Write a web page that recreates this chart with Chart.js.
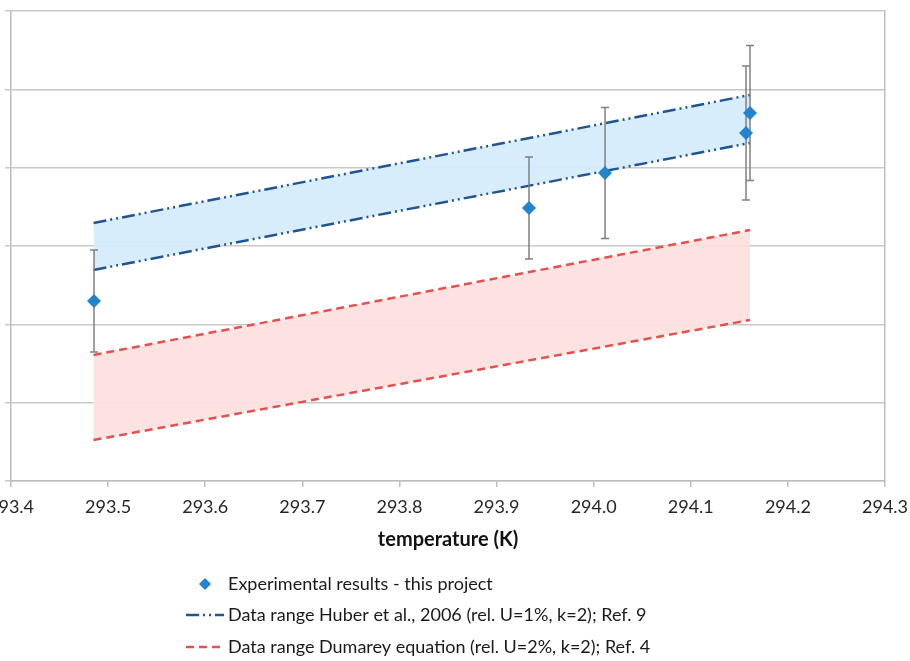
<!DOCTYPE html>
<html><head><meta charset="utf-8">
<script src="https://cdn.jsdelivr.net/npm/chart.js@4"></script>
<style>html,body{margin:0;padding:0;background:#fff}#wrap{width:910px;height:661px;position:relative}canvas{display:block}</style>
</head><body><div id="wrap"><canvas id="c" width="910" height="661"></canvas></div>
<script>
// ---- data ----
const expTemps   = [293.4855, 293.9334, 294.0117, 294.1569, 294.1610];
const expValues  = [2.298, 3.485, 3.932, 4.443, 4.698];
const expErrors  = [0.651, 0.651, 0.836, 0.855, 0.862];
const rangeTemps = [293.485, 294.161];
const huberUpper   = [3.294, 4.928];
const huberLower   = [2.694, 4.315];
const dumareyUpper = [1.609, 3.204];
const dumareyLower = [0.523, 2.055];
const xTickValues = [293.4, 293.5, 293.6, 293.7, 293.8, 293.9, 294.0, 294.1, 294.2, 294.3];
const xTitle = 'temperature (K)';
const seriesLabels = [
  'Experimental results - this project',
  'Data range Huber et al., 2006 (rel. U=1%, k=2); Ref. 9',
  'Data range Dumarey equation (rel. U=2%, k=2); Ref. 4'
];

const FONT = 'Lato';
const BLUE_LINE = '#1f5592';
const RED_LINE = '#e5514d';
const MARKER = '#2184cc';
const HUBER_DASH = [13, 4, 2, 4, 2, 4];
const DUM_DASH = [8, 5];

const pts = (xs, ys) => xs.map((x, i) => ({x, y: ys[i]}));

const errorBars = {
  id: 'errorBars',
  beforeDatasetDraw(chart, args) {
    if (args.index !== 0) return;
    const {ctx, scales: {x, y}} = chart;
    ctx.save();
    ctx.strokeStyle = '#808080';
    ctx.lineWidth = 1.5;
    expTemps.forEach((t, i) => {
      const px = x.getPixelForValue(t);
      const top = y.getPixelForValue(expValues[i] + expErrors[i]);
      const bot = y.getPixelForValue(expValues[i] - expErrors[i]);
      ctx.beginPath();
      ctx.moveTo(px, top); ctx.lineTo(px, bot);
      ctx.moveTo(px - 4, top); ctx.lineTo(px + 4, top);
      ctx.moveTo(px - 4, bot); ctx.lineTo(px + 4, bot);
      ctx.stroke();
    });
    ctx.restore();
  }
};

const customLegend = {
  id: 'customLegend',
  afterDraw(chart) {
    const ctx = chart.ctx;
    const rows = [584, 615, 647];
    ctx.save();
    ctx.font = '18px ' + FONT;
    ctx.textBaseline = 'middle';
    ctx.textAlign = 'left';
    const tx = 228;
    // row 1 diamond
    const r = 6;
    ctx.fillStyle = MARKER;
    ctx.beginPath();
    ctx.moveTo(205, rows[0] - r); ctx.lineTo(205 + r, rows[0]);
    ctx.lineTo(205, rows[0] + r); ctx.lineTo(205 - r, rows[0]); ctx.closePath();
    ctx.fill();
    // row 2 line
    ctx.lineWidth = 2.5;
    ctx.strokeStyle = BLUE_LINE;
    ctx.setLineDash(HUBER_DASH);
    ctx.beginPath(); ctx.moveTo(186, rows[1]); ctx.lineTo(224, rows[1]); ctx.stroke();
    // row 3 line
    ctx.strokeStyle = RED_LINE;
    ctx.setLineDash(DUM_DASH);
    ctx.beginPath(); ctx.moveTo(186, rows[2]); ctx.lineTo(224, rows[2]); ctx.stroke();
    ctx.setLineDash([]);
    ctx.fillStyle = '#1a1a1a';
    seriesLabels.forEach((s, i) => ctx.fillText(s, tx, rows[i]));
    ctx.restore();
  }
};

new Chart(document.getElementById('c'), {
  type: 'line',
  data: {
    datasets: [
      {label: seriesLabels[0], data: pts(expTemps, expValues), showLine: false,
       pointStyle: 'rectRot', pointRadius: 7, pointBackgroundColor: MARKER, pointBorderColor: MARKER, pointBorderWidth: 0, order: 0},
      {label: seriesLabels[1], data: pts(rangeTemps, huberUpper), borderColor: BLUE_LINE, borderWidth: 2.5,
       borderDash: HUBER_DASH, pointRadius: 0, fill: '+1', backgroundColor: 'rgba(214,236,252,0.95)', order: 1},
      {label: seriesLabels[1] + ' (lower)', data: pts(rangeTemps, huberLower), borderColor: BLUE_LINE, borderWidth: 2.5,
       borderDash: HUBER_DASH, pointRadius: 0, fill: false, order: 2},
      {label: seriesLabels[2], data: pts(rangeTemps, dumareyUpper), borderColor: RED_LINE, borderWidth: 2.5,
       borderDash: DUM_DASH, pointRadius: 0, fill: '+1', backgroundColor: 'rgba(253,224,224,0.95)', order: 3},
      {label: seriesLabels[2] + ' (lower)', data: pts(rangeTemps, dumareyLower), borderColor: RED_LINE, borderWidth: 2.5,
       borderDash: DUM_DASH, pointRadius: 0, fill: false, order: 4}
    ]
  },
  options: {
    responsive: false,
    animation: false,
    devicePixelRatio: 1,
    layout: {padding: {left: 0, right: 0, top: 11, bottom: 105}},
    plugins: {legend: {display: false}, tooltip: {enabled: false}, filler: {drawTime: 'beforeDatasetsDraw'}},
    scales: {
      x: {
        type: 'linear', min: 293.4, max: 294.3,
        afterBuildTicks(s) { s.ticks = xTickValues.map(v => ({value: v})); },
        ticks: {callback: v => v.toFixed(1), font: {family: FONT, size: 18}, color: '#262626', padding: 9, maxRotation: 0, autoSkip: false},
        grid: {display: true, drawOnChartArea: false, drawTicks: true, tickLength: 6, color: '#bdbdbd', lineWidth: 1.5},
        border: {color: '#bdbdbd', width: 1.5},
        title: {display: true, text: xTitle, font: {family: FONT, size: 20, weight: 'bold'}, color: '#111', padding: {top: 4, bottom: 4}},
        afterFit(s) { s.height = 75; s.paddingLeft = 0; s.paddingRight = 0; }
      },
      y: {
        min: 0, max: 6,
        ticks: {display: false, stepSize: 1},
        grid: {color: '#c8c8c8', lineWidth: 1.5, drawTicks: true, tickLength: 6},
        border: {color: '#bdbdbd', width: 1.5},
        afterFit(s) { s.width = 11; }
      },
      y2: {
        position: 'right', min: 0, max: 6,
        ticks: {display: false},
        grid: {display: false},
        border: {display: true, color: '#bdbdbd', width: 1.5},
        afterFit(s) { s.width = 25; }
      }
    }
  },
  plugins: [errorBars, customLegend]
});
</script>
</body></html>
